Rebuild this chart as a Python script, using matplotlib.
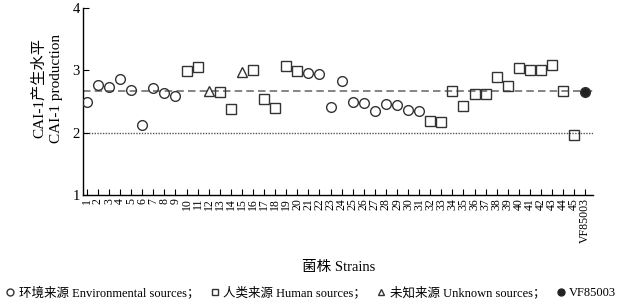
import numpy as np
import matplotlib.pyplot as plt
from matplotlib.lines import Line2D

plt.rcParams['font.family'] = ['Liberation Serif', 'Noto Sans CJK SC', 'DejaVu Sans']

# strain labels (1..45 + reference strain)
strains = [str(i) for i in range(1, 46)] + ['VF85003']

# source of each strain: E = environmental, H = human, U = unknown, R = reference
source = ['E', 'E', 'E', 'E', 'E', 'E', 'E', 'E', 'E', 'H',
          'H', 'U', 'H', 'H', 'U', 'H', 'H', 'H', 'H', 'H',
          'E', 'E', 'E', 'E', 'E', 'E', 'E', 'E', 'E', 'E',
          'E', 'H', 'H', 'H', 'H', 'H', 'H', 'H', 'H', 'H',
          'H', 'H', 'H', 'H', 'H', 'R']

# CAI-1 production level
cai1 = [2.50, 2.76, 2.73, 2.86, 2.69, 2.13, 2.71, 2.64, 2.59, 2.99,
        3.05, 2.67, 2.66, 2.38, 2.98, 3.00, 2.54, 2.40, 3.07, 2.99,
        2.95, 2.94, 2.41, 2.83, 2.49, 2.47, 2.34, 2.46, 2.44, 2.37,
        2.34, 2.19, 2.17, 2.67, 2.43, 2.62, 2.62, 2.89, 2.75, 3.04,
        3.00, 3.00, 3.09, 2.67, 1.97, 2.66]

ref_level = 2.67   # dashed line (VF85003 level)
low_level = 2.0    # dotted line

fig = plt.figure(figsize=(6.23, 3.03), dpi=100)
ax = fig.add_axes([0.133, 0.356, 0.819, 0.618])

x = np.arange(1, len(strains) + 1)
cai1 = np.array(cai1)
source = np.array(source)

ax.plot([0.64, 46.7], [ref_level, ref_level], color='#707070', ls=(0, (4.5, 2.5)), lw=1.2, zorder=1)
ax.plot([0.64, 46.7], [low_level, low_level], color='#555555', ls=(0, (1, 1)), lw=1.0, zorder=1)

styles = {'E': ('o', 'none'), 'H': ('s', 'none'), 'U': ('^', 'none'), 'R': ('o', '#222222')}
for k, (m, fc) in styles.items():
    sel = source == k
    ax.plot(x[sel], cai1[sel], ls='none', marker=m, markersize=7,
            markerfacecolor=fc, markeredgecolor='#333333', markeredgewidth=1.0, zorder=3)

ax.set_xlim(0.64, 46.7)
ax.set_ylim(1, 4)
ax.set_yticks([1, 2, 3, 4])
ax.set_xticks(x)
ax.set_xticklabels(strains, rotation=90, fontsize=8.5)
ax.tick_params(axis='both', direction='in', length=4, width=0.8, pad=2)
ax.tick_params(axis='y', labelsize=10.5)
for s in ['top', 'right']:
    ax.spines[s].set_visible(False)
for s in ['left', 'bottom']:
    ax.spines[s].set_linewidth(1.0)

ax.set_ylabel('CAI-1产生水平\nCAI-1 production', fontsize=11, linespacing=1.4)
ax.yaxis.set_label_coords(-0.038, 0.57)
fig.text(0.543, 0.117, '菌株 Strains', ha='center', va='center', fontsize=10.5)

handles = [Line2D([], [], ls='none', marker='o', markersize=5, markerfacecolor='none', markeredgecolor='#333333'),
           Line2D([], [], ls='none', marker='s', markersize=5, markerfacecolor='none', markeredgecolor='#333333'),
           Line2D([], [], ls='none', marker='^', markersize=5, markerfacecolor='none', markeredgecolor='#333333'),
           Line2D([], [], ls='none', marker='o', markersize=5, markerfacecolor='#222222', markeredgecolor='#222222')]
labels = ['环境来源 Environmental sources；', '人类来源 Human sources；',
          '未知来源 Unknown sources；', 'VF85003']
fig.legend(handles, labels, loc='center', bbox_to_anchor=(0.5, 0.033), ncol=4, frameon=False,
           fontsize=9, handlelength=0.6, handletextpad=0.4, columnspacing=0.9, borderaxespad=0)

fig.savefig('out.png', dpi=100)
